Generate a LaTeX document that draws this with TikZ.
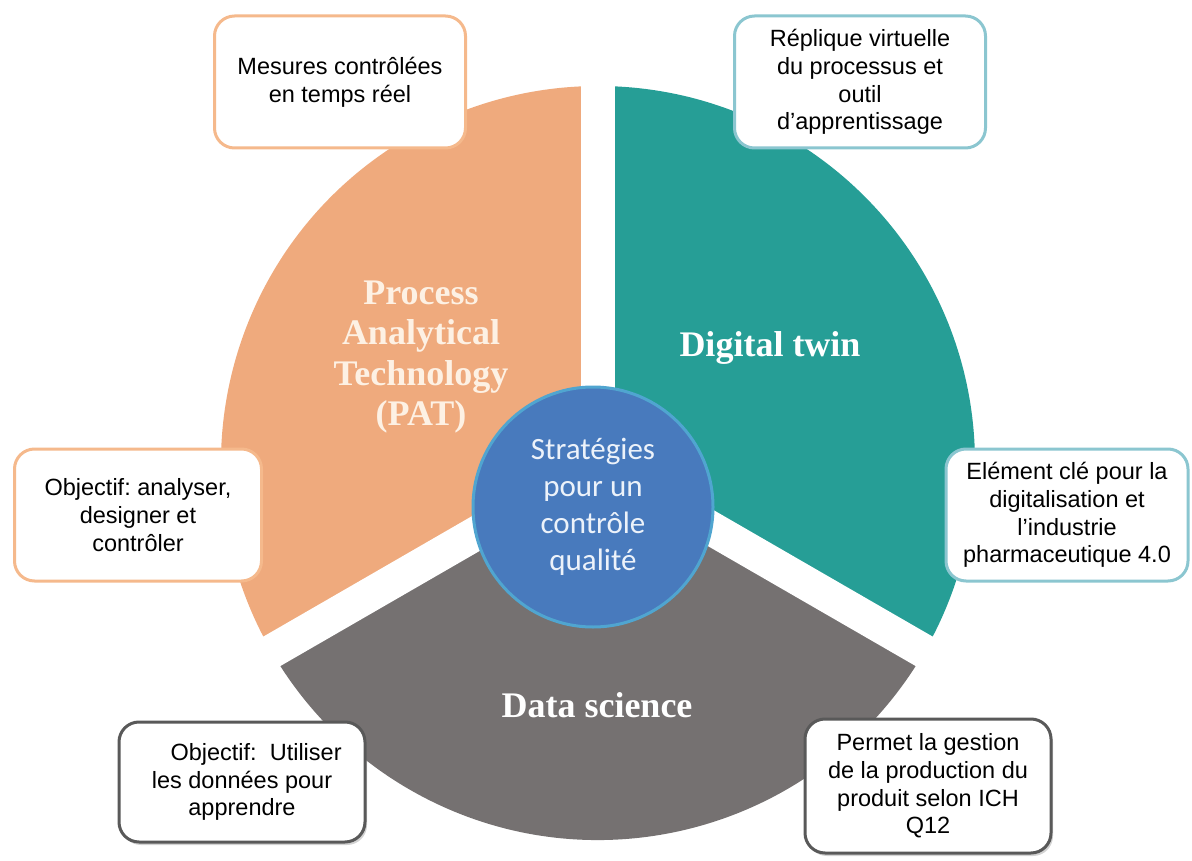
\documentclass[tikz,border=0pt]{standalone}
\usepackage{fontspec}
\setmainfont{Liberation Sans}
\newfontfamily\sectorfont{Liberation Serif}
\newfontfamily\circlefont{Carlito}
\usetikzlibrary{shapes, positioning, shadows}

\definecolor{patorange}{RGB}{239,170,125}
\definecolor{twinteal}{RGB}{38,158,150}
\definecolor{datagray}{RGB}{117,113,113}
\definecolor{coreblue}{RGB}{72,122,189}
\definecolor{corerim}{RGB}{80,165,208}
\definecolor{orangeline}{RGB}{245,185,140}
\definecolor{tealline}{RGB}{139,198,208}
\definecolor{grayline}{RGB}{89,89,89}
\definecolor{cream}{RGB}{253,241,228}
\definecolor{coretext}{RGB}{236,242,250}

\begin{document}
\begin{tikzpicture}[x=1pt, y=-1pt,
    infobox/.style={draw, rectangle, rounded corners=20pt, line width=3pt, fill=white,
        align=center, inner sep=4pt, font=\fontsize{23.5}{27.8}\selectfont\frenchspacing},
    sectorlabel/.style={align=center, font=\sectorfont\bfseries\fontsize{36}{40.5}\selectfont}]
    \useasboundingbox (0,0) rectangle (1192,861);
    % Pie with three strategies
    \coordinate (pie) at (598,463);
    \fill[patorange] (pie) -- ++(150:377) arc[start angle=150, end angle=270, radius=377] -- cycle;
    \fill[twinteal] (pie) -- ++(270:377) arc[start angle=270, end angle=390, radius=377] -- cycle;
    \fill[datagray] (pie) -- ++(30:377) arc[start angle=30, end angle=150, radius=377] -- cycle;
    \draw[white, line width=34pt] (pie) -- ++(270:400);
    \draw[white, line width=34pt] (pie) -- ++(150:400);
    \draw[white, line width=34pt] (pie) -- ++(30:400);
    \node (pat) [sectorlabel, text=cream] at (421,357) {Process\\Analytical\\Technology\\(PAT)};
    \node (twin) [sectorlabel, text=white] at (770,348) {Digital twin};
    \node (data) [sectorlabel, text=white] at (597,705) {Data science};
    \node (core) [circle, draw=corerim, line width=3pt, fill=coreblue, minimum size=240pt,
        text=coretext, align=center, font=\circlefont\fontsize{31}{37}\selectfont] at (593,507)
        {Stratégies\\pour un\\contrôle\\qualité};
    % Boxes around the pie
    \node (mesures) [infobox, draw=orangeline, minimum width=251pt, minimum height=132pt] at (340,82)
        {Mesures contrôlées\\en temps réel};
    \node (replique) [infobox, draw=tealline, minimum width=251pt, minimum height=132pt] at (860,82)
        {Réplique virtuelle\\du processus et\\outil\\d’apprentissage};
    \node (analyser) [infobox, draw=orangeline, minimum width=247pt, minimum height=132pt] at (138,515)
        {Objectif: analyser,\\designer et\\contrôler};
    \node (element) [infobox, draw=tealline, minimum width=242pt, minimum height=132pt] at (1067,515)
        {Elément clé pour la\\digitalisation et\\l’industrie\\pharmaceutique 4.0};
    \node (utiliser) [infobox, draw=grayline, minimum width=246pt, minimum height=120pt,
        drop shadow={opacity=0.35, shadow xshift=2pt, shadow yshift=-3pt}] at (242,782)
        {\hspace*{1.2em}Objectif:\ \ Utiliser\\les données pour\\apprendre};
    \node (gestion) [infobox, draw=grayline, minimum width=246pt, minimum height=134pt,
        drop shadow={opacity=0.35, shadow xshift=2pt, shadow yshift=-3pt}] at (928,786)
        {Permet la gestion\\de la production du\\produit selon ICH\\Q12};
\end{tikzpicture}
\end{document}
